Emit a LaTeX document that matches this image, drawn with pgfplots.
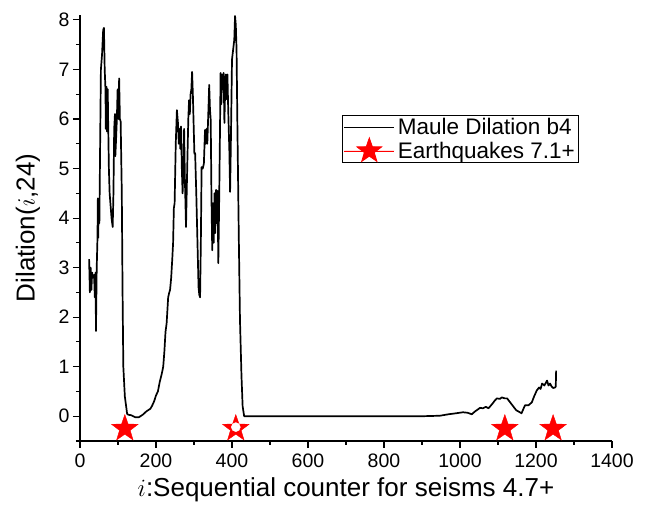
\documentclass[border=0pt]{standalone}
\usepackage{pgfplots}
\pgfplotsset{compat=1.18}
\usepackage{fontspec}
\setmainfont{Liberation Sans}
\pgfdeclareplotmark{fstar}{%
 \pgfpathmoveto{\pgfpointpolar{90}{\pgfplotmarksize}}%
 \pgfpathlineto{\pgfpointpolar{126}{0.4\pgfplotmarksize}}%
 \pgfpathlineto{\pgfpointpolar{162}{\pgfplotmarksize}}%
 \pgfpathlineto{\pgfpointpolar{198}{0.4\pgfplotmarksize}}%
 \pgfpathlineto{\pgfpointpolar{234}{\pgfplotmarksize}}%
 \pgfpathlineto{\pgfpointpolar{270}{0.4\pgfplotmarksize}}%
 \pgfpathlineto{\pgfpointpolar{306}{\pgfplotmarksize}}%
 \pgfpathlineto{\pgfpointpolar{342}{0.4\pgfplotmarksize}}%
 \pgfpathlineto{\pgfpointpolar{18}{\pgfplotmarksize}}%
 \pgfpathlineto{\pgfpointpolar{54}{0.4\pgfplotmarksize}}%
 \pgfpathclose\pgfusepathqfillstroke}
\begin{document}
\begin{tikzpicture}
\useasboundingbox (-80pt,-75pt) rectangle (568pt,441pt);
\begin{axis}[
 at={(0,0)}, anchor=south west,
 scale only axis, width=532pt, height=426pt,
 xmin=0, xmax=1400, ymin=-0.5, ymax=8.1,
 axis x line*=bottom, axis y line*=left,
 axis line style={black, line width=1.2pt},
 xtick={0,200,...,1400}, ytick={0,1,...,8},
 minor xtick={100,300,...,1300}, minor ytick={-0.5,0.5,...,7.5},
 tick align=outside,
 major tick length=7pt, minor tick length=4pt,
 every tick/.style={black, line width=1.1pt},
 /pgf/number format/assume math mode=true,
 /pgf/number format/1000 sep={},
 tick label style={font=\fontsize{19.5}{22}\selectfont},
 xticklabel style={yshift=-2pt},
 xlabel={$i$:Sequential counter for seisms 4.7+},
 ylabel={Dilation($i$,24)},
 xlabel style={at={(axis description cs:0.5,-0.115)}, anchor=center, font=\fontsize{26}{30}\selectfont},
 ylabel style={at={(axis description cs:-0.098,0.5)}, anchor=center, rotate=0, font=\fontsize{26}{30}\selectfont},
 legend style={at={(axis description cs:0.494,0.765)}, anchor=north west,
   draw=black, line width=0.8pt, font=\fontsize{22.5}{26}\selectfont,
   row sep=0pt, inner sep=1pt, outer sep=0pt,
   nodes={inner xsep=3pt}},
 legend cell align=left,
]
\addplot[black, line width=1.7pt, line join=round,
  legend image code/.code={\draw[black, line width=1pt] (2pt,0pt) -- (52pt,0pt);}] coordinates {
(24,3.17)(26,2.5)(28,3.0)(30,2.55)(32,2.9)(34,2.8)(37,2.85)(39,2.4)(41,2.9)(42,1.72)(44,3.0)(46,3.6)(47,4.4)(48,3.6)(49,4.2)(51,3.9)(53,5.5)(55,7.0)(58,7.3)(61,7.8)(63,7.84)(65,7.0)(67,6.6)(68,5.8)(70,6.65)(71,5.75)(73,6.6)(74,6.0)(76,5.0)(78,4.5)(80,4.3)(83,4.0)(86,3.82)(88,4.5)(90,5.8)(92,6.1)(93,5.25)(95,5.6)(97,6.0)(99,6.6)(101,6.0)(103,6.82)(105,6.0)(107,5.95)(110,4.5)(112,2.5)(114,1.0)(118,0.4)(124,0.05)(127,0.03)(135,0.02)(145,-0.02)(155,-0.02)(165,0.03)(175,0.1)(185,0.15)(189,0.2)(195,0.3)(200,0.42)(205,0.5)(210,0.7)(215,0.85)(219,1.0)(222,1.3)(225,1.7)(228,1.88)(232,2.4)(235,2.5)(237,2.55)(240,2.8)(243,3.2)(245,3.5)(247,4.2)(249,4.3)(252,5.5)(255,6.18)(258,5.9)(260,5.5)(262,5.8)(264,5.4)(266,5.85)(268,5.0)(270,4.5)(272,5.0)(274,5.8)(276,4.8)(279,3.82)(281,4.6)(283,5.3)(285,6.0)(287,6.38)(289,6.1)(291,6.5)(293,6.6)(295,6.95)(297,6.5)(299,5.9)(301,5.3)(303,5.31)(306,4.5)(309,3.55)(312,2.6)(314,2.45)(316,2.4)(318,3.5)(320,5.03)(323,5.0)(326,5.1)(329,5.78)(331,5.5)(333,5.8)(335,5.5)(338,6.2)(340,6.69)(342,6.2)(344,5.98)(346,4.4)(348,3.35)(350,4.3)(352,3.5)(354,4.5)(356,3.7)(358,4.57)(360,3.9)(362,4.55)(364,3.09)(366,4.2)(368,5.5)(370,6.93)(372,6.3)(374,6.9)(376,6.6)(378,6.93)(380,5.92)(382,6.6)(384,6.9)(386,6.4)(388,6.9)(390,6.2)(393,5.37)(395,4.53)(397,5.5)(400,7.2)(403,7.4)(406,7.6)(408,8.08)(410,7.9)(412,7.4)(414,6.0)(418,3.55)(421,1.94)(425,0.8)(428,0.2)(432,0.0)(500,0.0)(600,0.0)(700,0.0)(800,0.0)(900,0.0)(947,0.01)(970,0.04)(990,0.06)(1008,0.08)(1020,0.07)(1031,0.04)(1040,0.1)(1053,0.17)(1060,0.16)(1068,0.19)(1075,0.16)(1085,0.25)(1092,0.32)(1097,0.36)(1105,0.35)(1110,0.38)(1118,0.36)(1124,0.36)(1132,0.28)(1140,0.2)(1148,0.12)(1153,0.1)(1162,0.06)(1167,0.15)(1171,0.22)(1180,0.22)(1189,0.28)(1195,0.4)(1202,0.52)(1208,0.58)(1212,0.55)(1216,0.66)(1222,0.62)(1229,0.72)(1233,0.62)(1237,0.66)(1241,0.6)(1245,0.57)(1250,0.58)(1252,0.6)(1253,0.92)
};
\addlegendentry{Maule Dilation b4}
\addplot[only marks, red, fill=red, mark=fstar, mark size=14pt,
  legend image code/.code={
    \draw[color=red, line width=0.6pt] (2pt,0pt) -- (52pt,0pt);
    \draw[color=red, fill=red, mark=fstar, mark size=13pt, only marks] plot coordinates {(27pt,0pt)};
  }] coordinates {(118,-0.25)(410,-0.25)(1118,-0.25)(1245,-0.25)};
\addlegendentry{Earthquakes 7.1+}
\addplot[only marks, white, fill=white, mark=*, mark size=4.5pt, forget plot] coordinates {(410,-0.22)};
\end{axis}
\end{tikzpicture}
\end{document}
